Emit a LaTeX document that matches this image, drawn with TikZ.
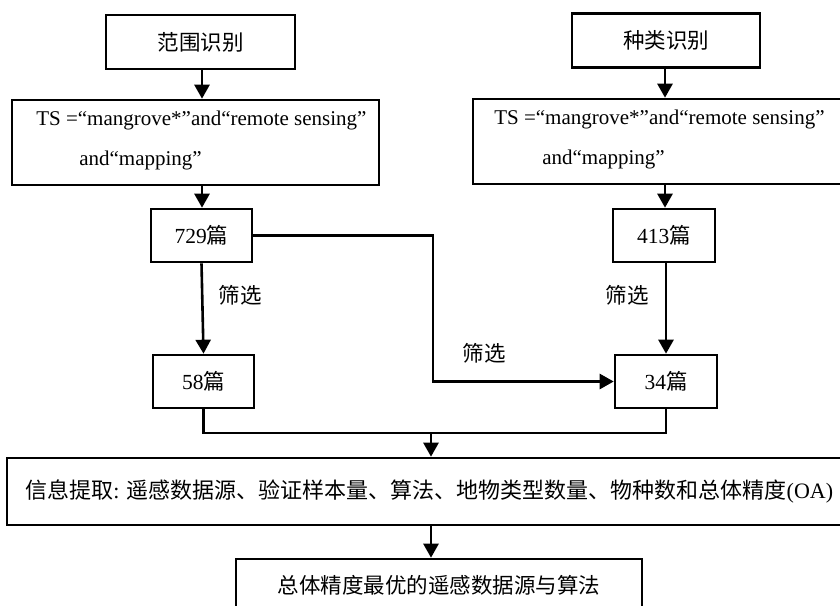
\documentclass[tikz,border=0pt]{standalone}
\usepackage{fontspec}
\setmainfont{Liberation Serif}
\newfontfamily\cjk{Noto Sans CJK SC}
\usetikzlibrary{arrows.meta}
\begin{document}
\begin{tikzpicture}[x=1pt,y=-1pt,line width=2.6pt,
  box/.style={draw,rectangle,line width=2.6pt,inner sep=0pt,font=\fontsize{21.5}{26}\selectfont\cjk},
  tstext/.style={inner sep=0pt,align=left,font=\fontsize{21}{40}\selectfont\rmfamily},
  lbl/.style={inner sep=0pt,font=\fontsize{21.5}{26}\selectfont\cjk},
  arr/.style={-{Triangle[width=15pt,length=14pt]}}]
\useasboundingbox (0,0) rectangle (840,605);
\clip (0,0) rectangle (840,605);
% top boxes
\node[box,minimum width=189pt,minimum height=54pt] (fw) at (200.5,42) {范围识别};
\node[box,minimum width=188pt,minimum height=54pt] (zl) at (666,40.5) {种类识别};
% query boxes
\node[box,minimum width=367pt,minimum height=85pt] (tsL) at (195.5,142.5) {};
\node[tstext,anchor=west] (tsLt) at (35,140) {TS =“mangrove*”and“remote sensing”\\\hspace*{43pt}and“mapping”};
\node[box,minimum width=375pt,minimum height=85pt] (tsR) at (660.5,141.5) {};
\node[tstext,anchor=west] (tsRt) at (493,139.5) {TS =“mangrove*”and“remote sensing”\\\hspace*{48pt}and“mapping”};
% count boxes
\node[box,minimum width=101pt,minimum height=53pt] (n729) at (201.5,235.5) {{\rmfamily 729}篇};
\node[box,minimum width=101pt,minimum height=53pt] (n58) at (203.5,381.5) {{\rmfamily 58}篇};
\node[box,minimum width=102pt,minimum height=53pt] (n413) at (664,235.5) {{\rmfamily 413}篇};
\node[box,minimum width=102pt,minimum height=53pt] (n34) at (666,381.5) {{\rmfamily 34}篇};
% info box
\node[box,minimum width=840pt,minimum height=67pt] (info) at (427,491.5) {};
\node[inner sep=0pt,anchor=west,font=\fontsize{22}{26}\selectfont\cjk] (infot) at (24,491.5) {信息提取{\rmfamily : }遥感数据源、验证样本量、算法、地物类型数量、物种数和总体精度{\rmfamily (OA)}};
% final box
\node[box,minimum width=406pt,minimum height=53pt] (final) at (439,585.5) {总体精度最优的遥感数据源与算法};
% labels
\node[lbl] (s1) at (240,295) {筛选};
\node[lbl] (s2) at (627,295) {筛选};
\node[lbl] (s3) at (484,353) {筛选};
% connectors
\coordinate (aL) at (202,0);
\coordinate (aR) at (665,0);
\draw[arr] (aL |- fw.south) -- (aL |- tsL.north);
\draw[arr] (aL |- tsL.south) -- (aL |- n729.north);
\draw[arr] (aR |- zl.south) -- (aR |- tsR.north);
\draw[arr] (aR |- tsR.south) -- (aR |- n413.north);
\draw[arr] (n729.south) -- (n58.north);
\draw[arr] (n34.north |- n413.south) -- (n34.north);
\coordinate (m) at (433,0);
\draw[arr] (n729.east) -- (m |- n729.east) -- (m |- n34.west) -- (n34.west);
\coordinate (j) at (431,433);
\draw (n58.south) -- (n58.south |- j) -- (n34.south |- j) -- (n34.south);
\draw[arr] (j) -- (j |- info.north);
\draw[arr] (j |- info.south) -- (j |- final.north);
\end{tikzpicture}
\end{document}
